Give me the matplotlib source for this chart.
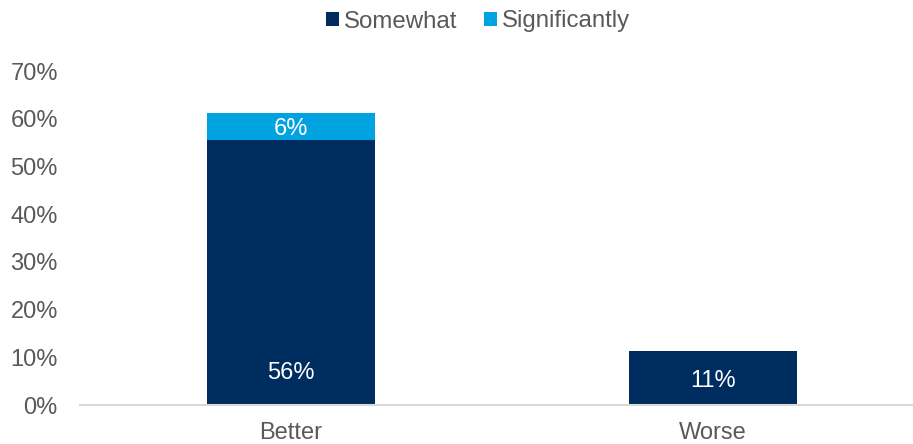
import matplotlib
matplotlib.use("Agg")
import matplotlib.pyplot as plt
from matplotlib.ticker import PercentFormatter

categories = ["Better", "Worse"]
somewhat = [0.556, 0.113]
significantly = [0.056, 0.0]
series_names = ["Somewhat", "Significantly"]
yticks = [0, 0.1, 0.2, 0.3, 0.4, 0.5, 0.6, 0.7]

navy = "#002D5F"
light = "#00A3E0"
gray = "#595959"

plt.rcParams['font.family'] = ['Liberation Sans', 'DejaVu Sans']

fig = plt.figure(figsize=(9.13, 4.44), dpi=100)
ax = fig.add_axes([80/913, 39/444, 833/913, (405-71)/444])

x = list(range(len(categories)))
w = 0.4
b1 = ax.bar(x, somewhat, width=w, color=navy, label=series_names[0])
b2 = ax.bar(x, significantly, width=w, bottom=somewhat, color=light, label=series_names[1])

for i, (s, g) in enumerate(zip(somewhat, significantly)):
    if g > 0:
        ax.annotate(f"{s*100:.0f}%", (i, 0), xytext=(0, 18.5), textcoords="offset points",
                    ha="center", va="baseline", color="white", fontsize=17)
        ax.text(i, s + g/2, f"{g*100:.0f}%", ha="center", va="center_baseline",
                color="white", fontsize=17)
    else:
        ax.text(i, s/2, f"{s*100:.0f}%", ha="center", va="center_baseline",
                color="white", fontsize=17)

ax.set_xlim(-0.5, 1.474)
ax.set_ylim(0, 0.7)
ax.set_yticks(yticks)
ax.yaxis.set_major_formatter(PercentFormatter(1.0, decimals=0))
ax.set_xticks(x)
ax.set_xticklabels(categories)
ax.tick_params(axis='both', length=0, labelsize=17, labelcolor=gray)
ax.tick_params(axis='y', pad=16)
ax.tick_params(axis='x', pad=12.5)
for sp in ["top", "right", "left"]:
    ax.spines[sp].set_visible(False)
ax.spines["bottom"].set_color("#D9D9D9")
ax.spines["bottom"].set_linewidth(1.5)

leg = fig.legend(handles=[b1, b2], labels=series_names, loc="center", bbox_to_anchor=(478/913, 1 - 21.5/444),
                 ncol=2, frameon=False, fontsize=17.3, handlelength=0.55, handleheight=0.55,
                 handletextpad=0.2, columnspacing=1.1, borderpad=0)
for t in leg.get_texts():
    t.set_color(gray)

fig.savefig("out.png", dpi=100)
